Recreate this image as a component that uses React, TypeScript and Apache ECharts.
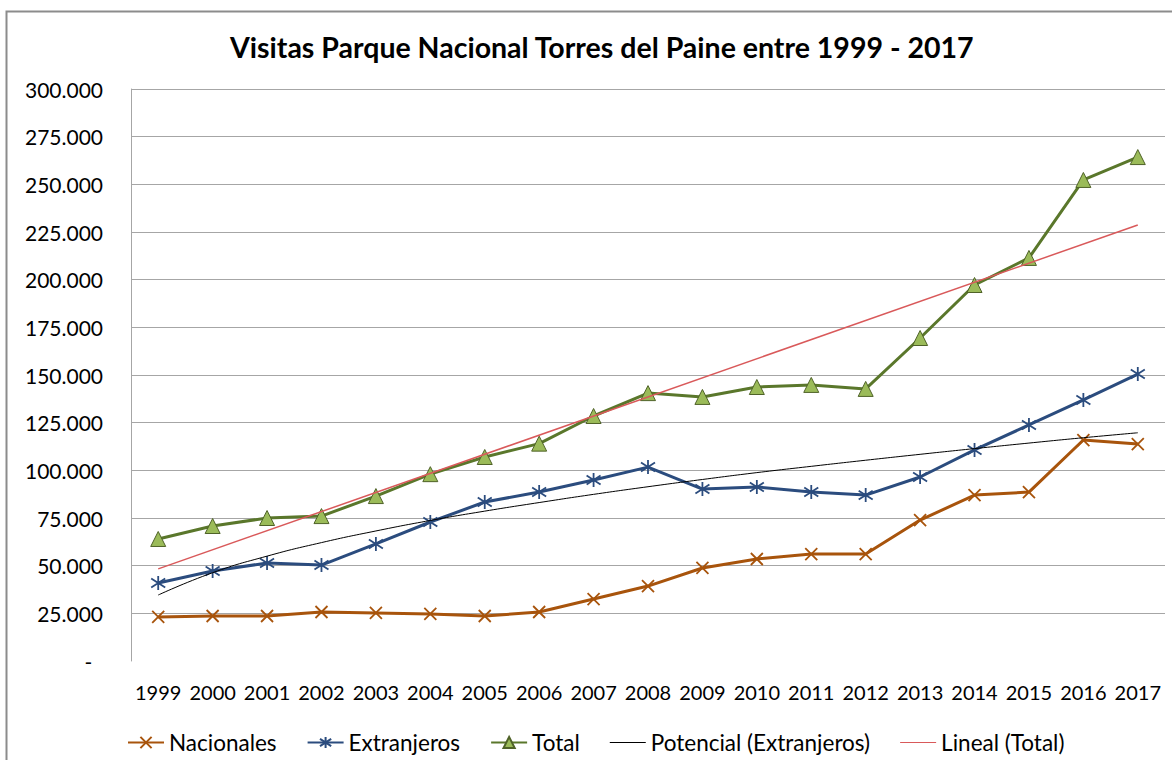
import React, { useEffect, useRef } from 'react';
import * as echarts from 'echarts';

const years = ['1999', '2000', '2001', '2002', '2003', '2004', '2005', '2006', '2007', '2008', '2009', '2010', '2011', '2012', '2013', '2014', '2015', '2016', '2017'];
const nacionales = [23100, 23600, 23600, 25700, 25200, 24700, 23600, 25700, 32500, 39300, 48800, 53500, 56100, 56100, 73900, 87000, 88600, 115900, 113800];
const extranjeros = [40900, 47200, 51400, 50300, 61400, 72900, 83400, 88600, 94900, 101700, 90200, 91300, 88600, 87000, 96500, 110700, 123800, 136900, 150500];
const total = [64000, 70800, 75000, 76000, 86500, 98000, 107000, 114000, 128500, 140500, 138500, 143700, 144800, 142700, 169400, 197200, 211400, 252300, 264300];
const potencialExtranjeros = [34600, 46300, 55000, 62100, 68200, 73700, 78600, 83100, 87400, 91400, 95200, 98800, 102100, 105300, 108400, 111400, 114300, 117100, 119700];
const linealTotal = [48300, null, null, null, null, null, null, null, null, null, null, null, null, null, null, null, null, null, 228700];

const FONT = 'Lato, "Open Sans", sans-serif';
const crossPath = 'path://M0,0 L10,10 M10,0 L0,10';
const asteriskPath = 'path://M5,0 L5,10 M0,1.8 L10,8.2 M0,8.2 L10,1.8';
const thinLineIcon = 'path://M0,0 L36,0 L36,1 L0,1 Z';

function fmt(v: number) {
  if (v === 0) return '-  ';
  return String(v).replace(/\B(?=(\d{3})+(?!\d))/g, '.');
}

export default function App() {
  const ref = useRef<HTMLDivElement>(null);
  useEffect(() => {
    const chart = echarts.init(ref.current!, null, { renderer: 'svg' });
    const gridColors = ['rgba(0,0,0,0)'].concat(new Array(12).fill('#A6A6A6'));
    chart.setOption({
      animation: false,
      backgroundColor: '#ffffff',
      title: {
        text: 'Visitas Parque Nacional Torres del Paine entre 1999 - 2017',
        left: 225,
        top: 27,
        textStyle: { fontFamily: FONT, fontWeight: 'bold', fontSize: 28.5, color: '#000' },
      },
      graphic: [
        {
          type: 'rect',
          shape: { x: 6.5, y: 11.5, width: 1200, height: 800 },
          style: { fill: 'none', stroke: '#8C8C8C', lineWidth: 2 },
          silent: true,
        },
      ],
      legend: {
        left: 122,
        top: 726,
        itemWidth: 36,
        itemHeight: 14,
        itemGap: 30,
        textStyle: { fontFamily: FONT, fontSize: 22.5, color: '#000' },
        data: [
          'Nacionales',
          'Extranjeros',
          'Total',
          { name: 'Potencial (Extranjeros)', icon: thinLineIcon },
          { name: 'Lineal (Total)', icon: thinLineIcon },
        ],
      },
      grid: { left: 131, right: 7, top: 89, bottom: 99, containLabel: false },
      xAxis: {
        type: 'category',
        data: years,
        boundaryGap: true,
        axisLine: { show: false },
        axisTick: { show: false },
        axisLabel: { fontFamily: FONT, fontSize: 20, color: '#000', margin: 21, interval: 0 },
      },
      yAxis: {
        type: 'value',
        min: 0,
        max: 300000,
        interval: 25000,
        axisLine: { show: true, lineStyle: { color: '#A6A6A6', width: 1 } },
        axisTick: { show: false },
        splitLine: { show: true, lineStyle: { color: gridColors, width: 1 } },
        axisLabel: { fontFamily: FONT, fontSize: 21, color: '#000', margin: 28, formatter: fmt },
      },
      series: [
        {
          name: 'Nacionales',
          type: 'line',
          data: nacionales,
          symbol: crossPath,
          symbolSize: 12,
          lineStyle: { color: '#A8540C', width: 3 },
          itemStyle: { color: '#A8540C', borderColor: '#A8540C', borderWidth: 1.8 },
          z: 3,
        },
        {
          name: 'Extranjeros',
          type: 'line',
          data: extranjeros,
          symbol: asteriskPath,
          symbolSize: 14,
          lineStyle: { color: '#2B4C7E', width: 3 },
          itemStyle: { color: '#2B4C7E', borderColor: '#2B4C7E', borderWidth: 1.8 },
          z: 3,
        },
        {
          name: 'Total',
          type: 'line',
          data: total,
          symbol: 'triangle',
          symbolSize: 15,
          lineStyle: { color: '#5A772B', width: 3 },
          itemStyle: { color: '#9BBB59', borderColor: '#4F6228', borderWidth: 1 },
          z: 3,
        },
        {
          name: 'Potencial (Extranjeros)',
          type: 'line',
          data: potencialExtranjeros,
          smooth: true,
          symbol: 'none',
          lineStyle: { color: '#000000', width: 1 },
          itemStyle: { color: '#000000' },
          z: 4,
        },
        {
          name: 'Lineal (Total)',
          type: 'line',
          data: linealTotal,
          connectNulls: true,
          symbol: 'none',
          lineStyle: { color: '#D9595A', width: 1.5 },
          itemStyle: { color: '#D9595A' },
          z: 4,
        },
      ],
    });
    return () => chart.dispose();
  }, []);
  return (
    <div
      ref={ref}
      style={{ position: 'fixed', left: 0, top: 0, width: 1172, height: 760, background: '#fff' }}
    />
  );
}
